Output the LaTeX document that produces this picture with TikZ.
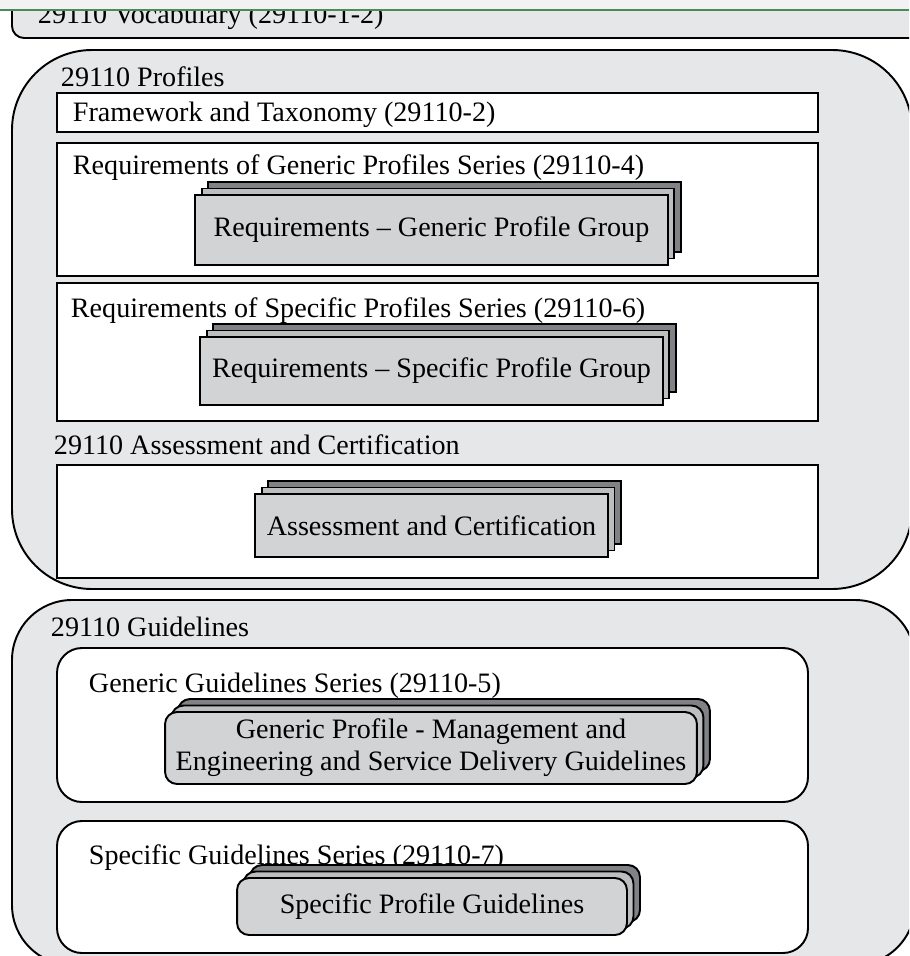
\documentclass[tikz,border=0pt]{standalone}
\usepackage{fontspec}
\setmainfont{Liberation Serif}
\usetikzlibrary{shadows}
\definecolor{panel}{HTML}{E6E7E8}
\definecolor{front}{HTML}{D1D3D4}
\definecolor{middle}{HTML}{BCBEC0}
\definecolor{back}{HTML}{808285}
\definecolor{topline}{HTML}{4A8A5C}
\newcommand{\txt}{\fontsize{16}{18.2}\selectfont}
\begin{document}
\begin{tikzpicture}[x=0.02cm,y=-0.02cm,line width=1.1pt,
    lbl/.style={anchor=base west,inner sep=0pt,font=\txt},
    pile/.style={draw,fill=front,font=\txt,align=center,inner sep=0pt,
      copy shadow={shadow xshift=0.26cm,shadow yshift=0.26cm,fill=back,draw},
      copy shadow={shadow xshift=0.13cm,shadow yshift=0.13cm,fill=middle,draw}},
    roundpile/.style={pile,rounded corners=0.24cm}]
  \useasboundingbox (0,0) rectangle (909,956);
  \clip (0,0) rectangle (909,956);

  % vocabulary strip
  \draw[fill=panel,rounded corners=0.24cm] (12,-30) rectangle (925,38);
  \node[lbl] (vocab) at (37,24) {29110 Vocabulary (29110-1-2)};
  \fill[white!95!black] (0,0) rectangle (909,9.5);
  \draw[topline,line width=1.2pt] (0,10) -- (909,10);

  % profiles
  \draw[fill=panel,rounded corners=1.6cm] (12,50) rectangle (912,589);
  \node[lbl] (prof) at (60,87) {29110 Profiles};
  \draw[fill=white] (57,93) rectangle (818,132);
  \node[lbl] (frame) at (72,122) {Framework and Taxonomy (29110-2)};
  \draw[fill=white] (57,143) rectangle (818,276);
  \node[lbl] (gen) at (72,174) {Requirements of Generic Profiles Series (29110-4)};
  \node[pile,minimum width=9.46cm,minimum height=1.4cm] (genp) at (431.5,230)
    {Requirements -- Generic Profile Group};
  \draw[fill=white] (57,283) rectangle (818,421);
  \node[lbl] (spec) at (70,317) {Requirements of Specific Profiles Series (29110-6)};
  \node[pile,minimum width=9.26cm,minimum height=1.36cm] (specp) at (431.5,371)
    {Requirements -- Specific Profile Group};
  \node[lbl] (assess) at (53,454) {29110 Assessment and Certification};
  \draw[fill=white] (57,465) rectangle (818,578);
  \node[pile,minimum width=7.06cm,minimum height=1.26cm] (assessp) at (431.5,525.5)
    {Assessment and Certification};

  % guidelines
  \draw[fill=panel,rounded corners=1.2cm] (12,600) rectangle (915,965);
  \node[lbl] (guide) at (50,636) {29110 Guidelines};
  \draw[fill=white,rounded corners=0.5cm] (57,648) rectangle (808,802);
  \node[lbl] (gguide) at (88,692) {Generic Guidelines Series (29110-5)};
  \node[roundpile,minimum width=10.64cm,minimum height=1.44cm] (ggp) at (431,748)
    {Generic Profile - Management and\\Engineering and Service Delivery Guidelines};
  \draw[fill=white,rounded corners=0.5cm] (57,821) rectangle (808,953);
  \node[lbl] (sguide) at (88,864) {Specific Guidelines Series (29110-7)};
  \node[roundpile,minimum width=7.8cm,minimum height=1.14cm] (sgp) at (432,906.5)
    {Specific Profile Guidelines};
\end{tikzpicture}
\end{document}
